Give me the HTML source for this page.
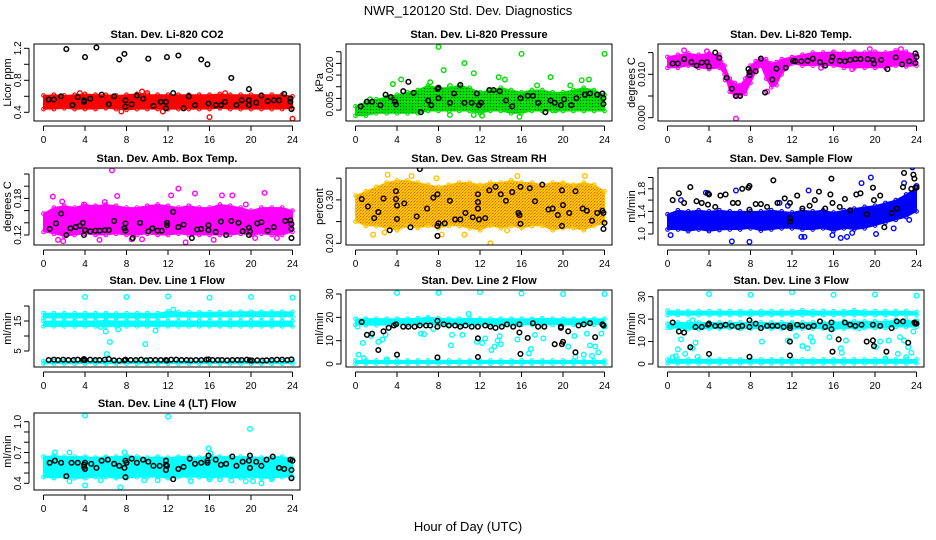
<!DOCTYPE html>
<html><head><meta charset="utf-8"><title>NWR_120120 Std. Dev. Diagnostics</title>
<style>
html,body{margin:0;padding:0;background:#fff;}
svg{display:block;font-family:"Liberation Sans",Arial,sans-serif;}
.t{font-size:11px;font-weight:bold;text-anchor:middle;}
.tk{font-size:10px;text-anchor:middle;}
.yl{font-size:11px;text-anchor:middle;}
</style></head>
<body>
<svg id="chart" width="936" height="540" viewBox="0 0 936 540" xmlns="http://www.w3.org/2000/svg">
<defs>
<pattern id="pGreen" width="3" height="3" patternUnits="userSpaceOnUse"><rect width="3" height="3" fill="#00e000"/><rect x="1" y="1" width="1" height="1" fill="#004400"/></pattern>
<pattern id="pRH" width="3" height="3" patternUnits="userSpaceOnUse"><rect width="3" height="3" fill="#ffd000"/><rect width="1" height="1" fill="#ff4400"/><rect x="2" y="1" width="1" height="1" fill="#ff7700"/><rect x="1" y="2" width="1" height="1" fill="#ff8800"/></pattern>
</defs>
<text x="468" y="15" font-size="13" text-anchor="middle">NWR_120120  Std. Dev. Diagnostics</text>
<text x="468" y="531" font-size="13" text-anchor="middle">Hour of Day (UTC)</text>
<g id="plots"></g>
</svg>
<script>
// ---------- data (hours 0..24) ----------
const hoursAll = [0,1,2,3,4,5,6,7,8,9,10,11,12,13,14,15,16,17,18,19,20,21,22,23,24];
const xTicks = [0,4,8,12,16,20,24];

// P1 CO2
const co2Lo = [0.44,0.44,0.45,0.44,0.44,0.44,0.45,0.44,0.43,0.44,0.44,0.44,0.44,0.44,0.44,0.44,0.44,0.45,0.44,0.44,0.44,0.44,0.44,0.44,0.45];
const co2Hi = [0.61,0.62,0.61,0.62,0.63,0.62,0.62,0.61,0.62,0.63,0.62,0.62,0.62,0.62,0.62,0.62,0.62,0.63,0.62,0.62,0.62,0.62,0.62,0.62,0.60];
const co2OutH = [7.5,11.5,16,24,10,17.5,9.5,3.5];
const co2OutV = [0.41,0.41,0.34,0.32,0.64,0.64,0.66,0.64];
const co2BlkH = [0.5,1,1.7,2.2,2.8,3.3,3.9,3.9,4,4.5,5.1,5.6,6.3,6.8,7.3,7.8,7.9,7.9,8.5,9,9.6,10.1,10.6,11.3,11.8,11.9,11.8,12.5,13,13.5,14,14.6,15.2,15.8,15.9,16.6,17.1,17.5,18.1,18.6,19.1,19.8,19.8,19.8,20.5,21,21.6,22.2,22.7,23.2,23.8,23.9,23.8];
const co2BlkV = [0.56,0.56,0.6,1.19,0.49,0.59,0.53,0.55,1.09,0.57,1.21,0.62,0.5,0.6,1.06,1.13,0.55,0.47,0.5,0.61,0.57,1.07,0.48,0.53,0.53,1.09,0.45,0.64,1.11,0.45,0.6,0.49,1.06,1.0,0.51,0.49,0.49,0.53,0.83,0.49,0.55,0.69,0.55,0.49,0.52,0.61,0.54,0.55,0.55,0.63,0.57,0.44,0.53];

// P2 Pressure
const prLo = [0.000,0.000,0.001,0.001,0.001,0.001,0.001,0.002,0.002,0.002,0.002,0.002,0.001,0.002,0.002,0.001,0.001,0.002,0.002,0.002,0.002,0.002,0.002,0.002,0.002];
const prHi = [0.004,0.006,0.007,0.008,0.009,0.010,0.011,0.013,0.012,0.012,0.013,0.012,0.010,0.011,0.012,0.011,0.010,0.011,0.011,0.010,0.010,0.011,0.012,0.011,0.009];
const prOutH = [8,16,24,10.5,8.5,11.4,13.8,14.4,18.8,4.4,3.6,22.5,21.8,7.2,9.1,15.8,12.2,11.4,19.3,9.1,1.4,17.5,20.7];
const prOutV = [0.0295,0.0265,0.0265,0.0225,0.0195,0.0182,0.0165,0.0155,0.0165,0.0155,0.0135,0.0155,0.0152,0.0143,0.0127,-0.0005,0.0,0.0003,0.0023,0.0003,0.007,0.013,0.013];
const prBlkH = [0.5,1.1,1.6,2.4,2.9,3.4,3.8,3.9,4.6,5.1,5.6,6.3,7,7.3,7.9,8,8,9.1,9.5,10.1,10.5,11.2,11.7,11.9,12.1,12.9,13.3,13.9,14.5,15.1,15.9,16.6,17.1,17.6,18.3,18.8,19.2,19.8,20.1,20.8,21.3,22.1,22.6,23.3,23.8,23.9,23.9];
const prBlkV = [0.004,0.006,0.006,0.0045,0.009,0.008,0.006,0.0048,0.0105,0.0145,0.0098,0.0015,0.0065,0.0045,0.0115,0.0075,0.012,0.0055,0.0095,0.0132,0.0055,0.0055,0.0095,0.0045,0.0055,0.011,0.011,0.0105,0.0065,0.004,0.0075,0.0085,0.0085,0.0055,0.0015,0.0065,0.0055,0.0045,0.007,0.0045,0.0075,0.009,0.0095,0.009,0.0095,0.005,0.0075];

// P3 Li-820 Temp
const tmpHours = [0,1,2,3,4,5,5.5,6,6.5,7,7.5,8,8.5,9,9.5,10,10.5,11,12,13,14,15,16,17,18,19,20,21,22,23,24];
const tmpLo = [.0115,.0115,.012,.0115,.0112,.0115,.010,.006,.005,.005,.0055,.008,.0105,.012,.009,.007,.0075,.010,.0125,.012,.012,.012,.012,.0115,.0115,.0115,.0115,.0115,.012,.0118,.012];
const tmpHi = [.0140,.0145,.0148,.0145,.0148,.0145,.012,.009,.008,.0075,.009,.012,.013,.0138,.0135,.0125,.0128,.0135,.014,.0145,.015,.015,.0152,.015,.0152,.015,.0152,.015,.0155,.0152,.0145];
const tmpOutH = [6.6,19.5,1.6,3.8,22.5,14.8,5.6,9.6,17.8];
const tmpOutV = [-0.0002,0.0158,0.0155,0.0153,0.0158,0.0115,0.0088,0.006,0.0112];
const tmpBlkH = [0.5,1.0,1.6,2.3,2.8,3.3,3.8,4.0,4.6,5.0,5.7,6.2,6.6,7.0,7.8,7.9,7.9,8.5,9.0,9.4,10.1,10.5,11.4,12.1,12.3,12.9,13.5,14.0,14.7,15.2,15.8,15.9,16.6,17.1,17.6,18.1,18.6,19.3,19.8,19.9,20.6,21.2,22.0,22.6,23.3,23.9,23.9,24];
const tmpBlkV = [.0125,.0125,.0135,.0128,.012,.0127,.0128,.0118,.015,.0138,.0092,.0067,.005,.005,.0112,.0098,.0105,.0107,.0136,.0058,.0088,.0113,.0115,.0131,.013,.013,.0131,.0136,.0128,.012,.0131,.014,.0131,.013,.0133,.0135,.0135,.0135,.0133,.0125,.0133,.0112,.0139,.0123,.013,.0148,.0126,.014];

// P4 Amb. Box Temp
const ambLo = [0.125,0.122,0.118,0.12,0.122,0.12,0.12,0.122,0.12,0.12,0.122,0.12,0.12,0.122,0.12,0.12,0.12,0.12,0.12,0.122,0.12,0.122,0.12,0.12,0.125];
const ambHi = [0.155,0.165,0.168,0.165,0.17,0.168,0.17,0.168,0.165,0.165,0.168,0.17,0.168,0.165,0.168,0.165,0.165,0.17,0.168,0.165,0.16,0.165,0.165,0.165,0.16];
const ambOutH = [6.6,13,12.3,14.6,21.3,0.9,7.1,17.2,18.2,1.8,3.9,5.9,19.5,1.4,1.9,13.7,16.4,8.5,5.4,9.5,20.4,22.5];
const ambOutV = [0.226,0.196,0.185,0.188,0.189,0.183,0.184,0.185,0.185,0.175,0.17,0.174,0.17,0.112,0.11,0.108,0.112,0.113,0.112,0.113,0.115,0.115];
const ambBlkH = [0.6,1.2,1.7,2.2,2.6,3.1,3.5,3.8,3.9,4,4.5,5,5.4,5.9,6.3,6.8,7.8,7.9,7.9,8.6,9.3,10.1,10.5,11,11.4,11.9,11.9,12.5,13,13.5,14.3,14.8,15.2,15.9,15.9,16.6,17.1,17.6,18.1,18.8,19.2,19.8,19.8,19.9,20.6,21,21.6,22.2,23.3,23.8,23.9,23.9,23.9];
const ambBlkV = [0.13,0.139,0.155,0.12,0.131,0.133,0.135,0.14,0.12,0.128,0.126,0.127,0.127,0.128,0.128,0.143,0.131,0.139,0.127,0.115,0.14,0.126,0.131,0.127,0.127,0.14,0.136,0.158,0.133,0.137,0.115,0.129,0.13,0.136,0.128,0.125,0.142,0.12,0.143,0.14,0.126,0.132,0.12,0.126,0.139,0.141,0.127,0.133,0.143,0.144,0.138,0.13,0.115];

// P5 Gas Stream RH
const rhLo = [0.25,0.24,0.24,0.235,0.23,0.24,0.235,0.24,0.235,0.24,0.24,0.235,0.23,0.24,0.235,0.24,0.235,0.24,0.24,0.23,0.235,0.235,0.23,0.24,0.245];
const rhHi = [0.31,0.32,0.33,0.34,0.345,0.345,0.34,0.335,0.33,0.335,0.34,0.34,0.335,0.34,0.34,0.345,0.34,0.34,0.335,0.34,0.34,0.335,0.34,0.335,0.32];
const rhOutH = [1.7,8.3,10.5,13,2.8,15.6,22.1,3.1,5.4,7.8,14.6];
const rhOutV = [0.22,0.22,0.22,0.20,0.225,0.355,0.355,0.358,0.355,0.35,0.23];
const rhBlkH = [0.6,1.2,1.8,2.2,2.7,3.3,3.9,3.9,4,4,4.7,5.3,5.9,6.2,6.9,7.5,7.9,7.9,7.9,8,8.6,9.1,9.6,10.1,10.6,11.3,11.8,11.8,11.8,11.9,12.5,12.9,13.5,14,14.5,15.1,15.7,15.8,15.9,15.9,16.8,17.3,18,18.6,19,19.5,19.9,20,19.9,20.6,21.2,21.9,22.3,22.8,23.3,23.8,23.9,24,23.9];
const rhBlkV = [0.302,0.285,0.258,0.272,0.303,0.23,0.32,0.302,0.287,0.256,0.292,0.237,0.262,0.371,0.28,0.305,0.313,0.24,0.217,0.246,0.246,0.298,0.255,0.255,0.27,0.26,0.313,0.295,0.28,0.255,0.258,0.322,0.33,0.313,0.298,0.318,0.27,0.265,0.245,0.33,0.327,0.297,0.335,0.278,0.28,0.265,0.322,0.288,0.24,0.27,0.32,0.28,0.275,0.252,0.27,0.275,0.27,0.247,0.233];

// P6 Sample Flow
const sfLo = [1.08,1.08,1.05,1.08,1.05,1.07,1.08,1.08,1.1,1.06,1.08,1.1,1.1,1.08,1.08,1.1,1.05,1.1,1.08,1.1,1.15,1.2,1.25,1.3,1.4];
const sfHi = [1.35,1.42,1.4,1.42,1.4,1.42,1.4,1.4,1.4,1.4,1.42,1.4,1.38,1.42,1.4,1.42,1.38,1.42,1.45,1.48,1.5,1.55,1.6,1.7,1.82];
const sfOutH = [0.3,1.3,3.7,6.2,7.9,6.6,12.9,13.2,13.6,15.9,16.7,17.3,18.7,19.6,20.1,22.8,23.6,24,17.8,10.8,11.6,21.8,23.3];
const sfOutV = [0.98,1.6,1.73,0.87,0.86,1.77,0.95,0.95,1.77,0.98,0.93,0.95,1.9,2.0,1.0,1.9,2.18,1.85,1.02,1.55,1.5,1.1,1.25];
const sfBlkH = [0.5,1.1,1.6,2.2,2.8,3.3,3.9,3.9,4.0,4.6,5.1,5.6,6.3,6.8,7.2,7.8,7.9,7.9,8.5,9,9.6,10.2,10.6,11.3,11.8,11.8,11.8,12.5,13,13.7,14.2,14.6,15.2,15.7,15.8,15.9,16.6,17.1,17.6,18.2,18.6,19.2,19.8,19.9,20.5,20.9,21.6,22.1,22.7,22.8,23.5,23.7,23.8,23.9,24];
const sfBlkV = [1.6,1.72,1.55,1.83,1.58,1.55,1.72,1.52,1.7,1.48,1.68,1.7,1.55,1.55,1.8,1.82,1.85,1.43,1.53,1.53,1.48,1.95,1.55,1.63,1.55,1.28,1.22,1.68,1.45,1.5,1.6,1.75,1.45,1.7,1.98,1.55,1.48,1.62,1.42,1.7,1.72,1.35,1.82,1.6,1.68,1.12,1.37,1.45,1.83,2.08,1.8,2.05,1.98,1.82,1.82];

// P7 Line 1 Flow (three bands)
const l1ALo = [16.0,16.0,16.0,16.0,16.0,16.0,16.0,16.0,16.0,16.0,16.0,16.0,16.3,16.4,16.3,16.3,16.3,16.4,16.4,16.4,16.4,16.4,16.4,16.4,16.4];
const l1AHi = [17.6,17.6,17.6,17.6,17.6,17.6,17.6,17.5,17.6,17.6,17.6,17.6,18.2,18.0,17.9,17.9,17.9,18.0,18.0,18.1,18.1,18.1,18.1,18.1,18.0];
const l1BLo = [13.2,13.2,13.2,13.2,13.2,13.2,13.2,13.2,13.2,13.2,13.2,13.2,13.2,13.2,13.2,13.2,13.2,13.2,13.2,13.2,13.2,13.2,13.2,13.2,13.2];
const l1BHi = [15.0,15.0,15.0,15.0,15.0,15.0,15.2,15.0,15.0,15.0,15.0,15.0,15.0,15.0,15.0,15.0,15.0,15.0,15.0,15.0,15.0,15.0,15.0,15.0,15.0];
const l1CLo = [0.8,0.8,0.8,0.8,0.8,0.8,0.8,0.8,0.8,0.8,0.8,0.8,0.8,0.8,0.8,0.8,0.8,0.8,0.8,0.8,0.8,0.8,0.8,0.8,0.8];
const l1CHi = [1.6,1.6,1.6,1.6,1.6,1.6,1.6,1.6,1.6,1.6,1.6,1.6,1.6,1.6,1.6,1.6,1.6,1.6,1.6,1.6,1.6,1.6,1.6,1.6,1.6];
const l1OutH = [4,8,12,16,20,24,6,6.4,6.1,7.2,9.8,10.8,5.5,12.5];
const l1OutV = [23,23,23.2,22.8,23,22.8,11.5,8,4,12.2,7.3,11.8,13,18.8];
const l1BlkH = [0.5,1,1.4,1.9,2.4,2.9,3.3,3.8,3.9,4,4.5,5,5.4,5.9,6.3,6.8,7.3,7.8,7.9,8.4,8.9,9.4,9.9,10.3,10.8,11.3,11.8,11.9,12.3,12.8,13.3,13.8,14.2,14.7,15.2,15.7,15.9,16.3,16.8,17.2,17.7,18.2,18.7,19.1,19.6,19.9,20.1,20.6,21.1,21.5,22,22.5,23,23.5,23.9];
const l1BlkV = [2,2.1,2,2.1,2,2,2.1,2,2.3,2,2.1,2,2,2.1,2.3,1.9,1.8,1.9,2.1,2,2,2.1,1.9,2,2,2,2,1.8,2.1,2.1,2,2,1.9,2,2,2.1,2.2,2,2,2,1.9,2,2,2,2.1,1.9,1.8,1.9,1.8,1.9,2,2.1,2.1,2,2.2];

// P8 Line 2 Flow
const l2ALo = [16.8,16.6,16.6,16.8,16.8,16.8,16.8,17.0,16.8,16.8,16.8,16.8,16.8,16.8,16.8,16.8,16.8,16.8,16.8,16.8,16.8,16.8,16.8,16.8,17.0];
const l2AHi = [19.4,19.4,19.4,19.4,19.4,19.4,19.6,20.0,19.6,19.4,19.4,19.6,19.4,19.4,19.4,19.4,19.4,19.4,19.6,19.4,19.4,19.4,19.4,19.4,19.4];
const l2BLo = [0.2,0.2,0.2,0.2,0.2,0.2,0.2,0.2,0.2,0.2,0.2,0.2,0.2,0.2,0.2,0.2,0.2,0.2,0.2,0.2,0.2,0.2,0.2,0.2,0.2];
const l2BHi = [1.5,1.5,1.5,1.5,1.5,1.5,1.5,1.5,1.5,1.5,1.5,1.5,1.5,1.5,1.5,1.5,1.5,1.5,1.5,1.5,1.5,1.5,1.5,1.5,1.5];
const l2OutH = [4,8,12,16,20,24,0.2,0.3,0.7,0.8,1.5,2.2,2.6,2.9,3,6.3,6.6,7.5,9.2,9.3,10.3,10.9,11.7,12.2,12.5,13.1,13.4,13.7,13.9,14,15.6,16.7,16.9,17.3,18.1,20.5,21.1,21.2,22,22.3,22.6,22.8,23.1,23.4,23.7,24];
const l2OutV = [30.5,30.5,30.8,30.2,30,30,16,4,9,2.5,12,9.5,10.5,12.5,2,13,12.8,15,8,12.5,12.5,21.5,9.5,9,11,6,7.5,10,12,8.5,10.5,4.5,6.5,12.5,11,7.5,12,3,4,13,8,3.5,7.5,5,13,16];
const l2BlkH = [0.6,1.1,1.6,2.2,2.7,3.2,3.7,3.9,4,4.6,5.1,5.7,6.2,6.8,7.2,7.9,7.9,7.9,8.5,9,9.6,10.1,10.6,11.2,11.8,11.8,11.8,12.5,13,13.5,14.1,14.6,15.2,15.8,15.8,15.9,16.6,17.1,17.6,18.2,19.2,19.8,19.8,19.9,20,20.5,21.2,21.5,22,22.6,23.1,23.8,23.9];
const l2BlkV = [18,12.5,13,6,14,15.5,16.5,17,4,16,16,16,16.5,16.5,16.5,16,18.5,2.8,17,16.5,16.5,16,16.5,16,16,11,3,16.5,16,15.5,16,17,16,17,13.5,4.3,11.2,17.5,16,16,8.5,16,15.5,8.5,9.5,14,5,16.5,17,17.5,11.5,17,16.5];

// P9 Line 3 Flow
const l3ALo = [21.8,21.8,21.8,21.8,21.8,21.8,21.8,21.8,21.8,21.8,21.8,21.8,21.8,21.8,21.8,21.8,21.8,21.8,21.8,21.8,21.8,21.8,21.8,21.8,21.8];
const l3AHi = [23.8,23.6,23.6,23.6,23.6,23.6,23.6,23.6,23.6,23.6,23.6,23.6,23.6,24.0,23.6,23.6,23.6,23.6,24.0,23.6,23.6,23.6,23.6,23.6,23.2];
const l3BLo = [16.0,16.0,15.5,15.5,15.8,15.8,16.0,15.8,15.8,15.8,15.8,15.8,15.5,15.8,15.8,15.8,15.5,15.8,16.0,16.0,16.0,16.0,16.5,16.5,16.5];
const l3BHi = [18.0,18.5,18.5,18.5,18.5,18.5,18.5,18.5,18.5,18.5,18.5,18.5,18.5,18.5,18.5,18.5,18.5,19.0,19.0,19.0,19.0,19.0,19.5,19.5,19.0];
const l3CLo = [0.3,0.3,0.3,0.3,0.3,0.3,0.3,0.3,0.3,0.3,0.3,0.3,0.3,0.3,0.3,0.3,0.3,0.3,0.3,0.3,0.3,0.3,0.3,0.3,0.3];
const l3CHi = [2.0,2.0,2.0,2.0,2.0,2.0,2.0,2.0,2.0,2.0,2.0,2.0,2.0,2.0,2.0,2.0,2.0,2.0,2.0,2.0,2.0,2.0,2.0,2.0,2.0];
const l3OutH = [4,8,12,16,20,24,0.3,0.5,0.8,1,1.3,1.7,2.4,2.7,2.9,2.4,7,9.1,11.6,12.4,13,13.5,13.8,14,15.6,16.8,16.7,17.2,18.5,20.1,20.5,21,21.3,22.2,22.4,22.8,23,23.2,23.5,23.7,24];
const l3OutV = [31.2,30.8,32,30.8,31,30.5,16.5,3,3.5,6.5,11,4.5,19.5,9.5,3.2,7,16,10,10.5,12.5,8,7,12,10,12,5,7,10.5,16,7.5,10,2.5,10.5,4.5,12,10.5,3,7.5,5,14.5,19];
const l3BlkH = [0.5,1.1,1.6,2.2,2.7,3.3,3.9,4,4,4.6,5.1,5.6,6.2,6.8,7.2,7.9,7.9,7.9,8.5,9,9.6,10.1,10.6,11.2,11.8,11.8,11.8,11.8,12.5,13,13.6,14.1,14.7,15.2,15.8,15.8,15.9,16.5,17.1,17.6,18.1,18.7,19.2,19.8,19.8,19.9,20.5,21.1,21.6,22.1,22.7,23.2,23.8,23.9,24];
const l3BlkV = [18.5,14.5,14,7.5,16.5,16.5,17.5,18,4.5,17,17,17.5,17,16.5,17,16.5,19.5,3.2,18,16,17,17,17,16.5,17,16,10,3.8,17.5,17,16.5,17,19,16.5,18.5,15.5,5.5,11,18.5,17.5,17,17.5,10,17.5,10.5,8,17,5.5,16,19,19,9.5,18.5,18,18];

// P10 Line 4 (LT) Flow
const l4Lo = [.46,.45,.46,.45,.45,.46,.46,.45,.45,.46,.46,.46,.45,.46,.46,.46,.45,.46,.46,.45,.46,.45,.45,.46,.46];
const l4Hi = [.66,.67,.66,.66,.66,.65,.66,.66,.67,.66,.65,.66,.65,.66,.66,.65,.67,.66,.66,.66,.66,.65,.66,.66,.64];
const l4OutH = [4,12,19.9,15.9,7.4,4,2.5,5.5,9.7,11,14.2,16,17,18.1,19.5,20.2,21,22,1.1,2.5,7.8,16.1];
const l4OutV = [1.06,1.05,0.93,0.74,0.36,0.38,0.42,0.43,0.43,0.43,0.42,0.44,0.44,0.43,0.42,0.42,0.40,0.44,0.70,0.70,0.70,0.69];
const l4BlkH = [0.6,1.1,1.7,2.2,2.7,3.3,3.9,3.9,4,4,4.6,5.1,5.6,6.2,6.8,7.3,7.8,7.9,7.9,8,8.5,9,9.6,10.1,10.6,11.2,11.8,11.8,11.8,11.9,12.5,13,13.5,14.1,14.6,15.2,15.8,15.8,15.9,16.6,17.1,17.6,18.2,18.6,19.2,19.8,19.9,19.9,20.5,21,21.5,22.1,22.7,23.2,23.8,23.9,23.9,24];
const l4BlkV = [0.6,0.62,0.6,0.47,0.6,0.6,0.58,0.56,0.54,0.6,0.59,0.55,0.62,0.63,0.59,0.57,0.55,0.46,0.62,0.6,0.64,0.6,0.63,0.61,0.57,0.57,0.62,0.58,0.53,0.57,0.44,0.54,0.56,0.64,0.59,0.6,0.6,0.62,0.67,0.63,0.58,0.59,0.66,0.57,0.61,0.62,0.67,0.55,0.61,0.57,0.63,0.66,0.55,0.54,0.63,0.53,0.45,0.62];

// ---------- layout ----------
const colLeft = [34, 346, 658];
const rowTop = [44, 168, 290, 413];
const boxW = 266, boxH = 77;

const panels = [
 {name:'co2', title:'Stan. Dev. Li-820 CO2', ylab:'Licor ppm', c:0, r:0, color:'#ff0000', fill:'#ff0000',
  dom:[0.4,1.2], rng:[112.3,48.3], ticks:[0.4,0.6,0.8,1.0,1.2], labels:[[0.4,'0.4'],[0.8,'0.8'],[1.2,'1.2']],
  bands:[[hoursAll,co2Lo,co2Hi]], outH:co2OutH, outV:co2OutV, blkH:co2BlkH, blkV:co2BlkV},
 {name:'pressure', title:'Stan. Dev. Li-820 Pressure', ylab:'kPa', c:1, r:0, color:'#00dd00', fill:'url(#pGreen)',
  dom:[0.005,0.020], rng:[104,69], ticks:[0.0024,0.0074,0.0124,0.0174,0.0224,0.0274], labels:[[0.005,'0.005'],[0.020,'0.020']],
  bands:[[hoursAll,prLo,prHi]], outH:prOutH, outV:prOutV, blkH:prBlkH, blkV:prBlkV},
 {name:'li820-temp', title:'Stan. Dev. Li-820 Temp.', ylab:'degrees C', c:2, r:0, color:'#ff00ff', fill:'#ff00ff',
  dom:[0,0.015], rng:[117.7,52.6], ticks:[0,0.005,0.010,0.015], labels:[[0,'0.000'],[0.010,'0.010']],
  bands:[[tmpHours,tmpLo,tmpHi]], outH:tmpOutH, outV:tmpOutV, blkH:tmpBlkH, blkV:tmpBlkV},
 {name:'amb-box-temp', title:'Stan. Dev. Amb. Box Temp.', ylab:'degrees C', c:0, r:1, color:'#ff00ff', fill:'#ff00ff',
  dom:[0.12,0.18], rng:[235,198.4], ticks:[0.12,0.14,0.16,0.18,0.20,0.22], labels:[[0.12,'0.12'],[0.18,'0.18']],
  bands:[[hoursAll,ambLo,ambHi]], outH:ambOutH, outV:ambOutV, blkH:ambBlkH, blkV:ambBlkV},
 {name:'gas-stream-rh', title:'Stan. Dev. Gas Stream RH', ylab:'percent', c:1, r:1, color:'#ffc000', fill:'url(#pRH)',
  dom:[0.20,0.30], rng:[243.3,199.9], ticks:[0.20,0.25,0.30,0.35], labels:[[0.20,'0.20'],[0.30,'0.30']],
  bands:[[hoursAll,rhLo,rhHi]], outH:rhOutH, outV:rhOutV, blkH:rhBlkH, blkV:rhBlkV},
 {name:'sample-flow', title:'Stan. Dev. Sample Flow', ylab:'ml/min', c:2, r:1, color:'#0000ff', fill:'#0000ff',
  dom:[1.0,1.8], rng:[234,188.8], ticks:[1.0,1.2,1.4,1.6,1.8,2.0], labels:[[1.0,'1.0'],[1.4,'1.4'],[1.8,'1.8']],
  bands:[[hoursAll,sfLo,sfHi]], outH:sfOutH, outV:sfOutV, blkH:sfBlkH, blkV:sfBlkV},
 {name:'line1-flow', title:'Stan. Dev. Line 1 Flow', ylab:'ml/min', c:0, r:2, color:'#00ffff', fill:'#00ffff',
  dom:[5,15], rng:[351,321], ticks:[5,10,15,20], labels:[[5,'5'],[15,'15']],
  bands:[[hoursAll,l1ALo,l1AHi],[hoursAll,l1BLo,l1BHi],[hoursAll,l1CLo,l1CHi]], outH:l1OutH, outV:l1OutV, blkH:l1BlkH, blkV:l1BlkV},
 {name:'line2-flow', title:'Stan. Dev. Line 2 Flow', ylab:'ml/min', c:1, r:2, color:'#00ffff', fill:'#00ffff',
  dom:[0,30], rng:[364,294], ticks:[0,10,20,30], labels:[[0,'0'],[10,'10'],[20,'20'],[30,'30']],
  bands:[[hoursAll,l2ALo,l2AHi],[hoursAll,l2BLo,l2BHi]], outH:l2OutH, outV:l2OutV, blkH:l2BlkH, blkV:l2BlkV},
 {name:'line3-flow', title:'Stan. Dev. Line 3 Flow', ylab:'ml/min', c:2, r:2, color:'#00ffff', fill:'#00ffff',
  dom:[0,30], rng:[364,296.7], ticks:[0,10,20,30], labels:[[0,'0'],[10,'10'],[20,'20'],[30,'30']],
  bands:[[hoursAll,l3ALo,l3AHi],[hoursAll,l3BLo,l3BHi],[hoursAll,l3CLo,l3CHi]], outH:l3OutH, outV:l3OutV, blkH:l3BlkH, blkV:l3BlkV},
 {name:'line4-lt-flow', title:'Stan. Dev. Line 4 (LT) Flow', ylab:'ml/min', c:0, r:3, color:'#00ffff', fill:'#00ffff',
  dom:[0.4,1.0], rng:[483.3,421.7], ticks:[0.4,0.5,0.6,0.7,0.8,0.9,1.0], labels:[[0.4,'0.4'],[0.7,'0.7'],[1.0,'1.0']],
  bands:[[hoursAll,l4Lo,l4Hi]], outH:l4OutH, outV:l4OutV, blkH:l4BlkH, blkV:l4BlkV}
];

const NS = 'http://www.w3.org/2000/svg';
function mk(tag, attrs, parent){
  const e = document.createElementNS(NS, tag);
  for (const k in attrs) e.setAttribute(k, attrs[k]);
  if (parent) parent.appendChild(e);
  return e;
}
function makeX(L){ const x0 = L + 9.5, x1 = L + 258.5; return h => x0 + (h/24)*(x1-x0); }
function makeY(dom, rng){ return v => rng[0] + (v-dom[0])/(dom[1]-dom[0])*(rng[1]-rng[0]); }

const root = document.getElementById('plots');
panels.forEach(p => {
  const L = colLeft[p.c], T = rowTop[p.r], B = T + boxH;
  const xs = makeX(L), ys = makeY(p.dom, p.rng);
  const g = mk('g', {}, root);
  
  

  const clipId = 'clip-' + p.name;
  const cp = mk('clipPath', {id: clipId}, g);
  mk('rect', {x: L, y: T, width: boxW, height: boxH}, cp);

  const title = mk('text', {x: L + boxW/2, y: T - 6, class: 't'}, g);
  title.textContent = p.title;
  
  

  const ylab = mk('text', {x: 0, y: 0, class: 'yl', transform: 'translate(' + (L - 23) + ',' + (T + boxH/2) + ') rotate(-90)'}, g);
  ylab.textContent = p.ylab;
  
  

  const data = mk('g', {'clip-path': 'url(#' + clipId + ')'}, g);
  
  

  p.bands.forEach((b, bi) => {
    const hh = b[0], lo = b[1], hi = b[2];
    let d = '';
    hh.forEach((h, i) => { d += (i ? 'L' : 'M') + xs(h).toFixed(1) + ',' + ys(hi[i]).toFixed(1); });
    for (let i = hh.length - 1; i >= 0; i--) d += 'L' + xs(hh[i]).toFixed(1) + ',' + ys(lo[i]).toFixed(1);
    d += 'Z';
    const band = mk('path', {d: d, fill: p.fill, stroke: p.color, 'stroke-width': 1, 'stroke-linejoin': 'round'}, data);
    
    
    hh.forEach((h, i) => {
      [lo[i], hi[i]].forEach(v => {
        const c = mk('circle', {cx: xs(h), cy: ys(v), r: 1.8, fill: 'none', stroke: p.color, 'stroke-width': 1.1}, data);
        
        
      });
    });
  });
  p.outH.forEach((h, i) => {
    const c = mk('circle', {cx: xs(h), cy: ys(p.outV[i]), r: 2.3, fill: 'none', stroke: p.color, 'stroke-width': 1.4}, data);
    
    
  });
  p.blkH.forEach((h, i) => {
    const c = mk('circle', {cx: xs(h), cy: ys(p.blkV[i]), r: 2.3, fill: 'none', stroke: '#000', 'stroke-width': 1.5}, data);
    
    
  });

  const box = mk('rect', {x: L, y: T, width: boxW, height: boxH, fill: 'none', stroke: '#000', 'stroke-width': 1}, g);
  
  

  const xa = mk('g', {}, g);
  
  
  mk('line', {x1: xs(0), x2: xs(24), y1: B + 5, y2: B + 5, stroke: '#000'}, xa);
  xTicks.forEach(t => {
    mk('line', {x1: xs(t), x2: xs(t), y1: B + 5, y2: B + 10, stroke: '#000'}, xa);
    const tx = mk('text', {x: xs(t), y: B + 22, class: 'tk'}, xa);
    tx.textContent = String(t);
  });
  const ya = mk('g', {}, g);
  
  
  const yv = p.ticks.map(ys);
  mk('line', {x1: L - 5, x2: L - 5, y1: Math.min(...yv), y2: Math.max(...yv), stroke: '#000'}, ya);
  p.ticks.forEach(t => {
    mk('line', {x1: L - 10, x2: L - 5, y1: ys(t), y2: ys(t), stroke: '#000'}, ya);
  });
  p.labels.forEach(lb => {
    const tx = mk('text', {x: 0, y: 0, class: 'tk', transform: 'translate(' + (L - 13) + ',' + ys(lb[0]) + ') rotate(-90)'}, ya);
    tx.textContent = lb[1];
  });
});
</script>
</body></html>
